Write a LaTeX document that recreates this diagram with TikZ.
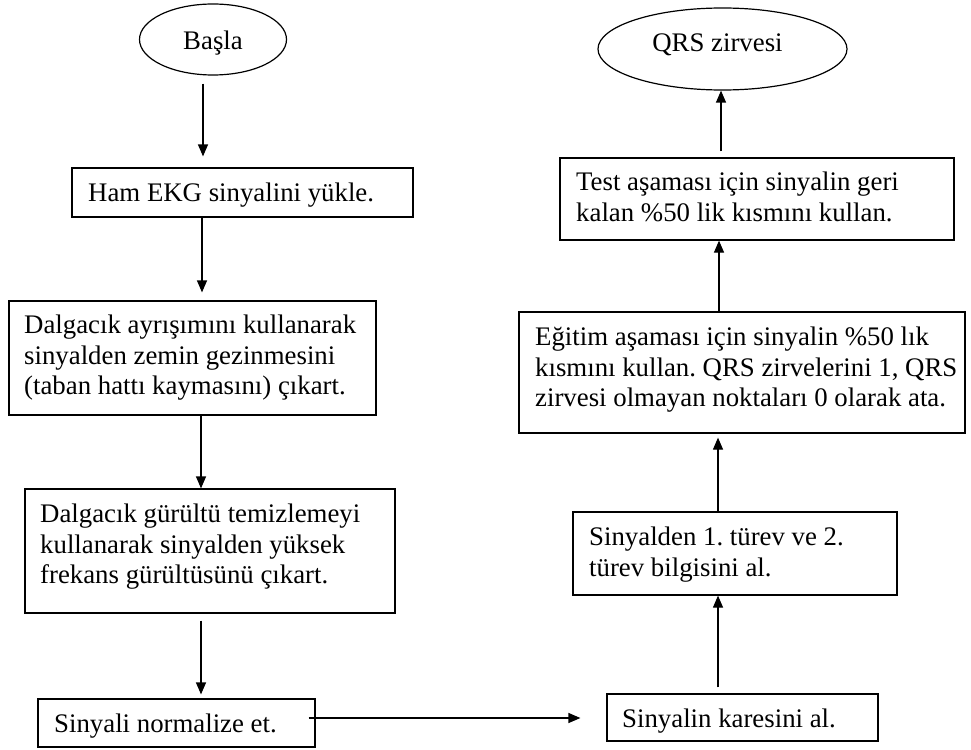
\documentclass[tikz,border=0pt]{standalone}
\usepackage{fontspec}
\setmainfont{Liberation Serif}
\usetikzlibrary{shapes.geometric,arrows.meta}
\frenchspacing
\tikzset{
  base/.style={font=\fontsize{26.8}{30.8}\selectfont},
  box/.style={draw, line width=1.2pt, rectangle, inner sep=0pt},
  term/.style={base, draw, line width=1.2pt, ellipse, inner sep=0pt},
  txt/.style={base, anchor=north west, inner sep=0pt, align=left},
  arr/.style={line width=1.2pt, -{Triangle[length=12pt,width=10pt]}}
}
\begin{document}
\begin{tikzpicture}[x=1pt,y=-1pt]
\useasboundingbox (0,0) rectangle (971,749);
% terminals
\node[term, minimum width=147pt, minimum height=71pt, text height=21pt, text depth=0pt] (start) at (213,39.5) {Başla};
\node[term, minimum width=249pt, minimum height=82pt, text height=18pt, text depth=12pt] (finish) at (722.5,49) {\hspace*{-10pt}QRS zirvesi};
% boxes
\node[box, minimum width=341pt, minimum height=49pt] (ham) at (242.5,192.5) {};
\node[box, minimum width=367pt, minimum height=114pt] (wave) at (192.5,358) {};
\node[box, minimum width=370pt, minimum height=124pt] (noise) at (210,551) {};
\node[box, minimum width=277pt, minimum height=48pt] (norm) at (176.5,723) {};
\node[box, minimum width=271pt, minimum height=47pt] (sq) at (742.5,717.5) {};
\node[box, minimum width=324pt, minimum height=83pt] (deriv) at (735,553.5) {};
\node[box, minimum width=446pt, minimum height=121pt] (train) at (742,372.5) {};
\node[box, minimum width=394pt, minimum height=82pt] (test) at (757,199) {};
% texts
\node[txt] (tham) at (88,179.5) {\strut Ham EKG sinyalini yükle.};
\node[txt] (twave) at (24,311.5) {\strut Dalgacık ayrışımını kullanarak\\sinyalden zemin gezinmesini\\(taban hattı kaymasını) çıkart.};
\node[txt] (tnoise) at (40,500.5) {\strut Dalgacık gürültü temizlemeyi\\kullanarak sinyalden yüksek\\frekans gürültüsünü çıkart.};
\node[txt] (tnorm) at (54,710.5) {\strut Sinyali normalize et.};
\node[txt] (tsq) at (622,705.5) {\strut Sinyalin karesini al.};
\node[txt] (tderiv) at (589,523.5) {\strut Sinyalden 1. türev ve 2.\\türev bilgisini al.};
\node[txt] (ttrain) at (535,323.5) {\strut Eğitim aşaması için sinyalin \%50 lık\\kısmını kullan. QRS zirvelerini 1, QRS\\zirvesi olmayan noktaları 0 olarak ata.};
\node[txt] (ttest) at (576,168.5) {\strut Test aşaması için sinyalin geri\\kalan \%50 lik kısmını kullan.};
% connectors
\draw[arr, shorten <=8pt, shorten >=11pt] ([xshift=-10pt]start.south) -- ([xshift=-10pt]start.south |- ham.north);
\draw[arr, shorten >=8pt] ([xshift=-40.5pt]ham.south) -- ([xshift=-40.5pt]ham.south |- wave.north);
\draw[arr] ([xshift=8.5pt]wave.south) -- ([xshift=8.5pt]wave.south |- noise.north);
\draw[arr, shorten <=7pt, shorten >=4pt] ([xshift=-9pt]noise.south) -- ([xshift=-9pt]noise.south |- norm.north);
\draw[arr, shorten >=19pt] ([xshift=-7pt,yshift=5pt]norm.east) -- ([xshift=-7pt,yshift=5pt]norm.east -| sq.west);
\draw[arr, shorten <=6pt] ([xshift=-24.5pt]sq.north) -- ([xshift=-24.5pt]sq.north |- deriv.south);
\draw[arr, shorten >=4pt] ([xshift=-17pt]deriv.north) -- ([xshift=-17pt]deriv.north |- train.south);
\draw[arr] ([xshift=-23pt]train.north) -- ([xshift=-23pt]train.north |- test.south);
\draw[arr, shorten <=6pt] ([xshift=-36pt]test.north) -- ([xshift=-36pt]test.north |- finish.south);
\end{tikzpicture}
\end{document}
